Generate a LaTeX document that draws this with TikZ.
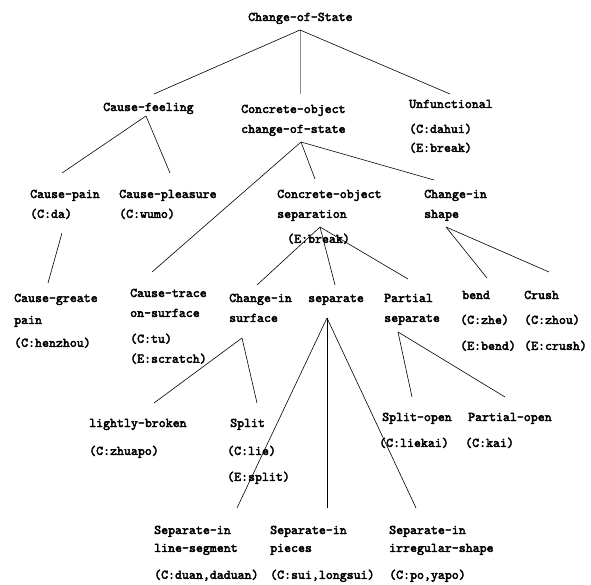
\documentclass[tikz,border=0pt]{standalone}
\usepackage{fontspec}
\usepackage{xcolor}
\usepackage{tikz}
\usetikzlibrary{positioning, calc}
\newfontfamily\conceptfont{lmmono10-regular}[Extension=.otf, FakeBold=3]
\newcommand{\conceptlines}[1]{\begin{tabular}[t]{@{}l@{}}#1\end{tabular}}

\tikzset{
	concept/.style={anchor=base west, inner sep=0pt, font=\conceptfont\fontsize{13.3}{20}\selectfont},
	branch/.style={draw=black, line width=0.6bp},
	graybranch/.style={draw=black!45, line width=0.9bp}
}

\begin{document}
\begin{tikzpicture}[x=1bp, y=-1bp]
	\useasboundingbox (0,0) rectangle (591,585);
	
	\node[concept] (cos) at (248,21) {Change-of-State};
	
	\node[concept] (cf) at (103,111) {Cause-feeling};
	\node[concept] (coc) at (241,113) {\conceptlines{Concrete-object\\change-of-state}};
	\node[concept] (unf) at (409,108) {\conceptlines{Unfunctional\\[5bp](C:dahui)\\[-1bp](E:break)}};
	
	\node[concept] (cpain) at (30,198) {\conceptlines{Cause-pain\\(C:da)}};
	\node[concept] (cpleas) at (119,198) {\conceptlines{Cause-pleasure\\(C:wumo)}};
	\node[concept] (cosep) at (277,198) {\conceptlines{Concrete-object\\separation\\[5bp]\hspace*{10bp}(E:break)}};
	\node[concept] (cishape) at (424,198) {\conceptlines{Change-in\\shape}};
	
	\node[concept] (cgp) at (14,302) {\conceptlines{Cause-greate\\[2bp]pain\\[3bp](C:henzhou)}};
	\node[concept] (cts) at (130,297) {\conceptlines{Cause-trace\\on-surface\\[6bp](C:tu)\\(E:scratch)}};
	\node[concept] (cisurf) at (229,302) {\conceptlines{Change-in\\surface}};
	\node[concept] (sep) at (308,302) {separate};
	\node[concept] (psep) at (384,302) {\conceptlines{Partial\\separate}};
	\node[concept] (bend) at (460,299) {\conceptlines{\hspace*{2bp}bend\\[5bp](C:zhe)\\[6bp](E:bend)}};
	\node[concept] (crush) at (524,299) {\conceptlines{Crush\\[5bp](C:zhou)\\[6bp](E:crush)}};
	
	\node[concept] (lb) at (89,427) {\conceptlines{lightly-broken\\[8bp](C:zhuapo)}};
	\node[concept] (split) at (227,427) {\conceptlines{\hspace*{3bp}Split\\[8bp](C:lie)\\[6bp](E:split)}};
	\node[concept] (sopen) at (379,421) {\conceptlines{\hspace*{3bp}Split-open\\[6bp](C:liekai)}};
	\node[concept] (popen) at (465,421) {\conceptlines{\hspace*{3bp}Partial-open\\[6bp](C:kai)}};
	
	\node[concept] (sils) at (154,534) {\conceptlines{Separate-in\\[-2bp]line-segment\\[7bp](C:duan,daduan)}};
	\node[concept] (sip) at (270,534) {\conceptlines{Separate-in\\[-2bp]pieces\\[7bp](C:sui,longsui)}};
	\node[concept] (sii) at (389,534) {\conceptlines{Separate-in\\[-2bp]irregular-shape\\[7bp](C:po,yapo)}};
	
	\draw[branch] ([shift={(52,9)}]cos.base west) -- ([shift={(51,-17)}]cf.base west);
	\draw[graybranch] ([shift={(52,9)}]cos.base west) -- ([shift={(59,-19)}]coc.base west);
	\draw[branch] ([shift={(52,9)}]cos.base west) -- ([shift={(41,-14)}]unf.base west);
	
	\draw[branch] ([shift={(43,5)}]cf.base west) -- ([shift={(32,-25)}]cpain.base west);
	\draw[branch] ([shift={(43,5)}]cf.base west) -- ([shift={(51,-25)}]cpleas.base west);
	\draw[branch] ([shift={(32,35)}]cpain.base west) -- ([shift={(34,-19)}]cgp.base west);
	
	\draw[branch] ([shift={(60,29)}]coc.base west) -- ([shift={(22,-25)}]cts.base west);
	\draw[branch] ([shift={(60,29)}]coc.base west) -- ([shift={(38,-19)}]cosep.base west);
	\draw[branch] ([shift={(60,29)}]coc.base west) -- ([shift={(10,-18)}]cishape.base west);
	
	\draw[branch] ([shift={(43,29)}]cosep.base west) -- ([shift={(28,-17)}]cisurf.base west);
	\draw[branch] ([shift={(43,29)}]cosep.base west) -- ([shift={(27,-17)}]sep.base west);
	\draw[branch] ([shift={(43,29)}]cosep.base west) -- ([shift={(24,-23)}]psep.base west);
	
	\draw[branch] ([shift={(22,29)}]cishape.base west) -- ([shift={(27,-21)}]bend.base west);
	\draw[branch] ([shift={(22,29)}]cishape.base west) -- ([shift={(25,-27)}]crush.base west);
	
	\draw[branch] ([shift={(13,36)}]cisurf.base west) -- ([shift={(65,-24)}]lb.base west);
	\draw[branch] ([shift={(13,36)}]cisurf.base west) -- ([shift={(30,-24)}]split.base west);
	
	\draw[branch] ([shift={(19,16)}]sep.base west) -- ([shift={(83,-26)}]sils.base west);
	\draw[branch] ([shift={(19,16)}]sep.base west) -- ([shift={(57,-26)}]sip.base west);
	\draw[branch] ([shift={(19,16)}]sep.base west) -- ([shift={(27,-26)}]sii.base west);
	
	\draw[branch] ([shift={(14,30)}]psep.base west) -- ([shift={(33,-24)}]sopen.base west);
	\draw[branch] ([shift={(14,30)}]psep.base west) -- ([shift={(40,-24)}]popen.base west);
\end{tikzpicture}
\end{document}
